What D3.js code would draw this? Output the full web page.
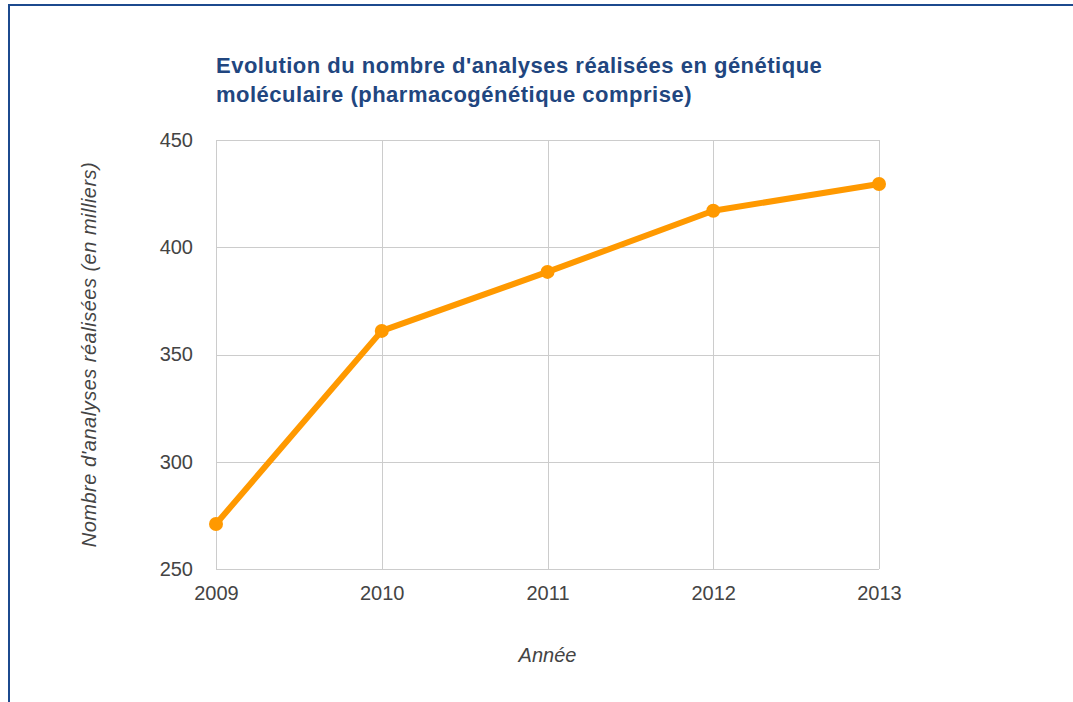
<!DOCTYPE html>
<html>
  <head>
    <meta charset="utf-8">
    <style>
    body { margin: 0; background: #fff; }
    svg { display: block; }
    .tick text { font-family: "Liberation Sans", Arial, sans-serif; font-size: 20px; fill: #444; }
    </style>
  </head>
  <body>
    <div id="chart-area"></div>

    <script src="https://d3js.org/d3.v7.min.js"></script>
    <script>
      const years = [2009, 2010, 2011, 2012, 2013];
      const analyses = [271, 361, 388.5, 417, 429.5];
      const yTicks = [250, 300, 350, 400, 450];

      const width = 1073;
      const height = 702;
      const margin = { top: 140, right: 194, bottom: 133, left: 216 };

      const svg = d3.select("#chart-area")
        .append("svg")
          .attr("width", width)
          .attr("height", height);

      // frame (only top and left edges visible)
      svg.append("rect")
        .attr("x", 9)
        .attr("y", 5)
        .attr("width", 1200)
        .attr("height", 900)
        .attr("fill", "none")
        .attr("stroke", "#1c4a8e")
        .attr("stroke-width", 2);

      const x = d3.scaleLinear()
        .domain([2009, 2013])
        .range([margin.left, width - margin.right]);

      const y = d3.scaleLinear()
        .domain([250, 450])
        .range([height - margin.bottom, margin.top]);

      // grid
      const grid = svg.append("g");
      grid.selectAll(".hgrid")
        .data(yTicks)
        .enter().append("line")
          .attr("x1", margin.left)
          .attr("x2", width - margin.right)
          .attr("y1", d => Math.round(y(d)) + 0.5)
          .attr("y2", d => Math.round(y(d)) + 0.5)
          .attr("stroke", "#ccc");
      grid.selectAll(".vgrid")
        .data(years)
        .enter().append("line")
          .attr("x1", d => Math.round(x(d)) + 0.5)
          .attr("x2", d => Math.round(x(d)) + 0.5)
          .attr("y1", margin.top)
          .attr("y2", height - margin.bottom)
          .attr("stroke", "#ccc");

      // axes
      const yAxis = d3.axisLeft(y)
        .tickValues(yTicks)
        .tickSize(0)
        .tickPadding(23);
      svg.append("g")
        .attr("transform", `translate(${margin.left}, 0)`)
        .call(yAxis)
        .call(g => g.select(".domain").remove());

      const xAxis = d3.axisBottom(x)
        .tickValues(years)
        .tickFormat(d3.format("d"))
        .tickSize(0)
        .tickPadding(17);
      svg.append("g")
        .attr("transform", `translate(0, ${height - margin.bottom})`)
        .call(xAxis)
        .call(g => g.select(".domain").remove());

      // line + points
      const line = d3.line()
        .x((d, i) => x(years[i]))
        .y(d => y(d));

      svg.append("path")
        .datum(analyses)
        .attr("fill", "none")
        .attr("stroke", "#ff9900")
        .attr("stroke-width", 6)
        .attr("stroke-linejoin", "round")
        .attr("d", line);

      svg.selectAll(".dot")
        .data(analyses)
        .enter().append("circle")
          .attr("cx", (d, i) => x(years[i]))
          .attr("cy", d => y(d))
          .attr("r", 7)
          .attr("fill", "#ff9900");

      // title
      const title = svg.append("text")
        .attr("x", margin.left)
        .attr("y", 73)
        .attr("fill", "#21467f")
        .style("font-family", "'Liberation Sans', Arial, sans-serif")
        .style("font-weight", "bold")
        .style("font-size", "22px")
        .style("letter-spacing", "0.5px");
      title.append("tspan").attr("x", margin.left).text("Evolution du nombre d'analyses réalisées en génétique");
      title.append("tspan").attr("x", margin.left).attr("dy", 29).text("moléculaire (pharmacogénétique comprise)");

      // axis titles
      svg.append("text")
        .attr("x", (x(2009) + x(2013)) / 2)
        .attr("y", 662)
        .attr("text-anchor", "middle")
        .attr("fill", "#444")
        .style("font-family", "'Liberation Sans', Arial, sans-serif")
        .style("font-style", "italic")
        .style("font-size", "20px")
        .text("Année");

      svg.append("text")
        .attr("transform", `translate(96, ${(y(250) + y(450)) / 2}) rotate(-90)`)
        .attr("text-anchor", "middle")
        .attr("fill", "#444")
        .style("font-family", "'Liberation Sans', Arial, sans-serif")
        .style("font-style", "italic")
        .style("font-size", "20px")
        .style("letter-spacing", "0.5px")
        .text("Nombre d'analyses réalisées (en milliers)");
    </script>
  </body>
</html>
